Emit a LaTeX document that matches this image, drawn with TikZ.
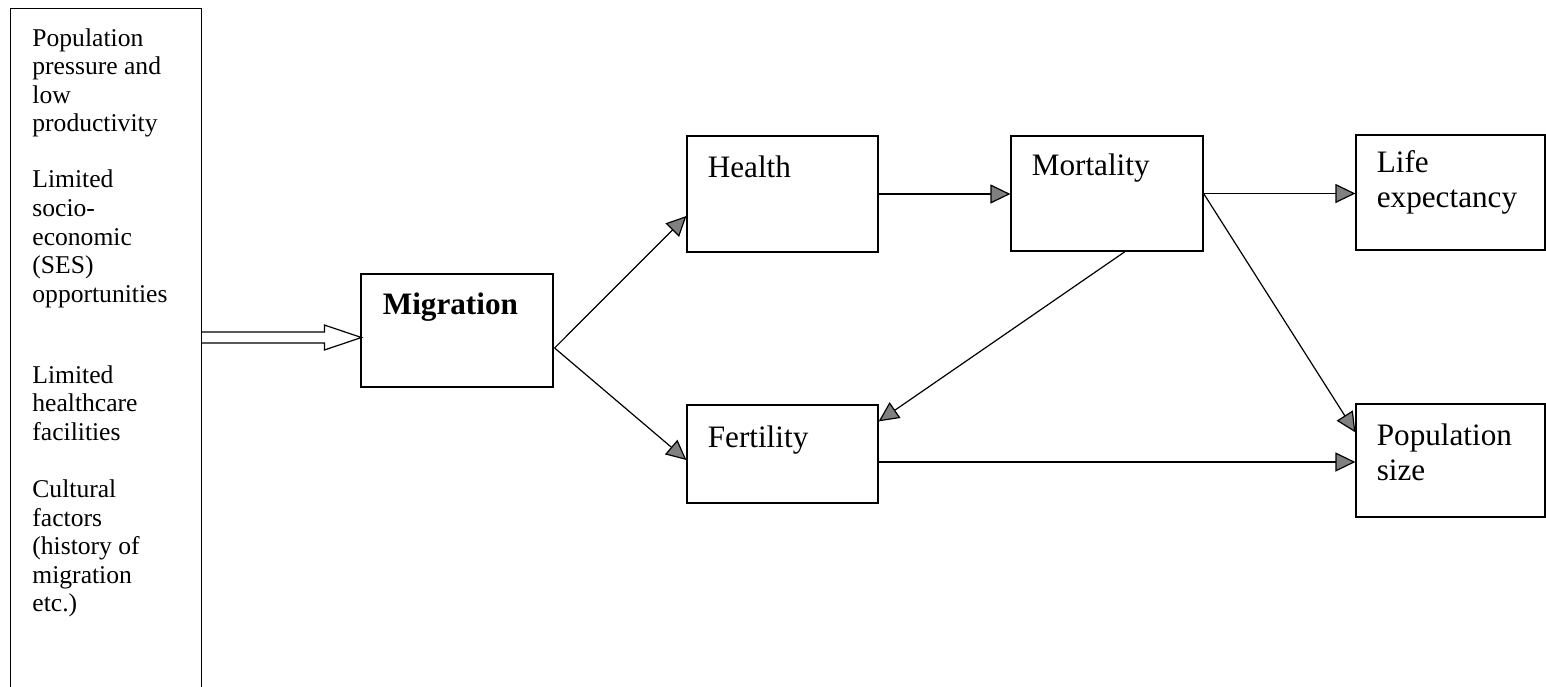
\documentclass[tikz,border=0pt]{standalone}
\usepackage{fontspec}
\setmainfont{LiberationSerif}[Extension=.ttf, UprightFont=*-Regular, BoldFont=*-Bold, ItalicFont=*-Italic, BoldItalicFont=*-BoldItalic]
\usetikzlibrary{arrows.meta,calc}
\begin{document}
\begin{tikzpicture}[x=0.5pt,y=-0.5pt,
  box/.style={draw=black, line width=0.6pt, inner sep=0pt},
  lbl/.style={anchor=north west, inner sep=0pt, align=left, font=\fontsize{15.6}{17.5}\selectfont},
  arr/.style={draw=black, line width=0.6pt, -{Triangle[length=10pt,width=9.5pt,fill=black!50]}},
  dbl/.style={draw=black, line width=0.6pt, line join=miter}
]
\useasboundingbox (0,0) rectangle (1546,686);
\clip (0,0) rectangle (1546,686);

% left causes box (open at the bottom of the picture)
\node[box, minimum width=95.5pt, minimum height=360pt, anchor=north west] (causes) at (10,8) {};
\node[lbl, font=\fontsize{12.8}{14.3}\selectfont] (causesT) at (32,28) {Population\\pressure and\\low\\productivity\\[13.7pt]Limited\\socio-\\economic\\(SES)\\opportunities\\[26.2pt]Limited\\healthcare\\facilities\\[14.2pt]Cultural\\factors\\(history of\\migration\\etc.)};

% boxes
\node[box, minimum width=96pt, minimum height=56.5pt] (mig) at (457,330.5) {};
\node[lbl, font=\bfseries\fontsize{15.6}{17.5}\selectfont] (migT) at ($(mig.north west)+(22,19)$) {Migration};

\node[box, minimum width=95.5pt, minimum height=58pt] (health) at (782.5,194) {};
\node[lbl] (healthT) at ($(health.north west)+(21,20)$) {Health};

\node[box, minimum width=96pt, minimum height=57.5pt] (mort) at (1107,193.5) {};
\node[lbl] (mortT) at ($(mort.north west)+(21,18)$) {Mortality};

\node[box, minimum width=94.5pt, minimum height=57.5pt] (life) at (1450.5,192.5) {};
\node[lbl] (lifeT) at ($(life.north west)+(21,16)$) {Life\\expectancy};

\node[box, minimum width=95.5pt, minimum height=49pt] (fert) at (782.5,454) {};
\node[lbl] (fertT) at ($(fert.north west)+(21,21)$) {Fertility};

\node[box, minimum width=94.5pt, minimum height=56.5pt] (pop) at (1450.5,460.5) {};
\node[lbl] (popT) at ($(pop.north west)+(21,20)$) {Population\\size};

% hollow double arrow into Migration
\coordinate (tip) at ($(mig.west)+(1,7)$);
\coordinate (hu) at ($(tip)+(-37,-5.5)$);
\coordinate (hl) at ($(tip)+(-37,5.5)$);
\draw[dbl] (causes.east |- hu) -- (hu) -- ($(hu)+(0,-7)$) -- (tip) -- ($(hl)+(0,7)$) -- (hl) -- (causes.east |- hl);

% connectors
\coordinate (ms) at ($(mig.east)+(1,17.5)$);
\draw[arr] (ms) -- ($(health.west)+(0,22)$);
\draw[arr] (ms) -- ($(fert.west)+(0,6)$);
\draw[arr] (health.east) -- (health.east -| mort.west);
\draw[arr] ($(mort.south)+(18,0)$) -- ($(fert.north east)+(0,17)$);
\draw[arr] (mort.east) -- (mort.east -| life.west);
\draw[arr] (mort.east) -- ($(pop.north west)+(0,29)$);
\coordinate (fs) at ($(fert.east)+(0,8)$);
\draw[arr] (fs) -- (fs -| pop.west);
\end{tikzpicture}
\end{document}
